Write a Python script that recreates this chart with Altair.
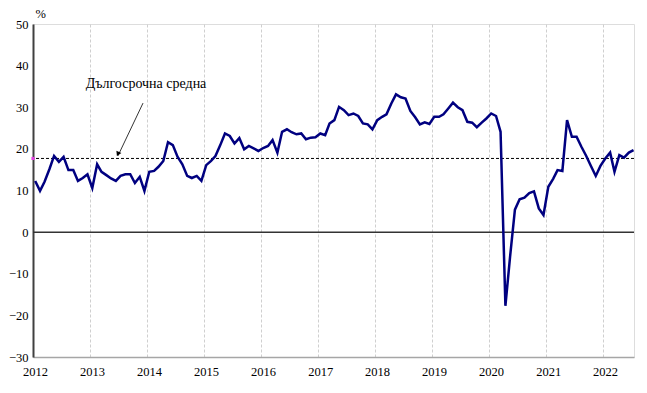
import altair as alt
import pandas as pd

# Monthly values, Jan 2012 - Jul 2022 (%)
v2012 = [12.3, 9.9, 12.1, 15.1, 18.3, 16.9, 18.1, 14.9, 14.9, 12.3, 13.0, 13.9]
v2013 = [10.6, 16.3, 14.5, 13.7, 12.9, 12.3, 13.5, 13.9, 13.9, 11.8, 13.3, 9.9]
v2014 = [14.5, 14.7, 15.7, 17.1, 21.6, 20.9, 18.1, 16.3, 13.5, 13.0, 13.5, 12.3]
v2015 = [16.1, 17.1, 18.3, 20.9, 23.7, 23.1, 21.3, 22.6, 19.9, 20.7, 20.1, 19.5]
v2016 = [20.2, 20.7, 22.1, 19.1, 24.1, 24.7, 24.0, 23.5, 23.7, 22.3, 22.7, 22.8]
v2017 = [23.7, 23.3, 26.1, 26.9, 30.1, 29.3, 28.1, 28.5, 27.9, 26.1, 25.9, 24.7]
v2018 = [26.9, 27.7, 28.3, 30.9, 33.1, 32.4, 32.1, 29.1, 27.6, 25.9, 26.4, 26.0]
v2019 = [27.7, 27.7, 28.3, 29.7, 31.1, 30.0, 29.3, 26.5, 26.3, 25.2, 26.3, 27.3]
v2020 = [28.5, 27.9, 24.1, -17.7, -5.9, 5.4, 7.9, 8.3, 9.4, 9.8, 5.7, 4.1]
v2021 = [10.9, 12.8, 14.9, 14.7, 26.9, 22.9, 22.9, 20.5, 18.3, 15.9, 13.5, 15.9]
v2022 = [17.7, 19.1, 14.5, 18.5, 17.9, 19.1, 19.7]

long_avg = 17.7
annot_text = "Дългосрочна средна"
years = list(range(2012, 2023))

values = v2012 + v2013 + v2014 + v2015 + v2016 + v2017 + v2018 + v2019 + v2020 + v2021 + v2022
dates = pd.date_range("2012-01-01", periods=len(values), freq="MS") + pd.Timedelta(days=14)
df = pd.DataFrame({"date": dates, "value": values})

serif = "Liberation Serif"
x_domain = ["2012-01-01", "2022-07-18"]
tick_vals = [alt.DateTime(year=y, month=1, date=1) for y in years]

xscale = alt.Scale(domain=x_domain)
yscale = alt.Scale(domain=[-30, 50], nice=False)

line = alt.Chart(df).mark_line(color="#000080", strokeWidth=2.5).encode(
    x=alt.X("date:T", scale=xscale,
            axis=alt.Axis(values=tick_vals, format="%Y", title=None, grid=True,
                          gridColor="#cfcfcf", gridDash=[3, 2], gridWidth=1,
                          ticks=False, domainColor="#a6a6a6", domainWidth=1.5,
                          labelFont=serif, labelFontSize=12.5, labelColor="#000",
                          labelPadding=8, labelOffset=2, labelFlush=False)),
    y=alt.Y("value:Q", scale=yscale,
            axis=alt.Axis(values=list(range(-30, 51, 10)), grid=False, title="%",
                          titleAngle=0, titleAlign="left", titleBaseline="alphabetic",
                          titleX=2, titleY=-7, titleFont=serif, titleFontSize=12.5,
                          titleFontWeight="normal", titleColor="#000",
                          ticks=False, domainColor="#404040", domainWidth=2,
                          labelFont=serif, labelFontSize=12.5, labelColor="#000",
                          labelPadding=5)),
)

zero = alt.Chart(pd.DataFrame({"y": [0]})).mark_rule(color="#333333", strokeWidth=1.5).encode(
    y=alt.Y("y:Q", scale=yscale))

avg = alt.Chart(pd.DataFrame({"y": [long_avg]})).mark_rule(
    color="#000", strokeWidth=1, strokeDash=[3, 2]).encode(y=alt.Y("y:Q", scale=yscale))

marker = alt.Chart(pd.DataFrame({"date": [pd.Timestamp("2012-01-01")], "y": [long_avg]})).mark_point(
    shape="square", filled=True, size=10, color="#e040e0", opacity=1).encode(
    x=alt.X("date:T", scale=xscale), y=alt.Y("y:Q", scale=yscale))

arrow_df = pd.DataFrame({"x": [pd.Timestamp("2013-12-06")], "y": [31.0],
                         "x2": [pd.Timestamp("2013-06-28")], "y2": [18.3]})
arrow = alt.Chart(arrow_df).mark_rule(color="#000", strokeWidth=0.8).encode(
    x=alt.X("x:T", scale=xscale), y=alt.Y("y:Q", scale=yscale), x2="x2:T", y2="y2:Q")
head = alt.Chart(arrow_df).mark_point(shape="triangle-down", filled=True, size=30,
                                      color="#000", opacity=1, angle=25, yOffset=-2).encode(
    x=alt.X("x2:T", scale=xscale), y=alt.Y("y2:Q", scale=yscale))

label = alt.Chart(pd.DataFrame({"date": [pd.Timestamp("2013-12-25")], "y": [35.5],
                                "t": [annot_text]})).mark_text(
    font=serif, fontSize=14, color="#000", align="center", baseline="middle").encode(
    x=alt.X("date:T", scale=xscale), y=alt.Y("y:Q", scale=yscale), text="t:N")

chart = alt.layer(zero, avg, arrow, head, label, line, marker).properties(
    width=601, height=333,
    padding={"left": 25, "top": 16, "right": 5, "bottom": 36},
    autosize=alt.AutoSizeParams(type="none"),
).configure_view(stroke="#a6a6a6", strokeWidth=1.5).configure(background="white")

chart.save("out.html", embed_options={"renderer": "svg", "actions": False})
